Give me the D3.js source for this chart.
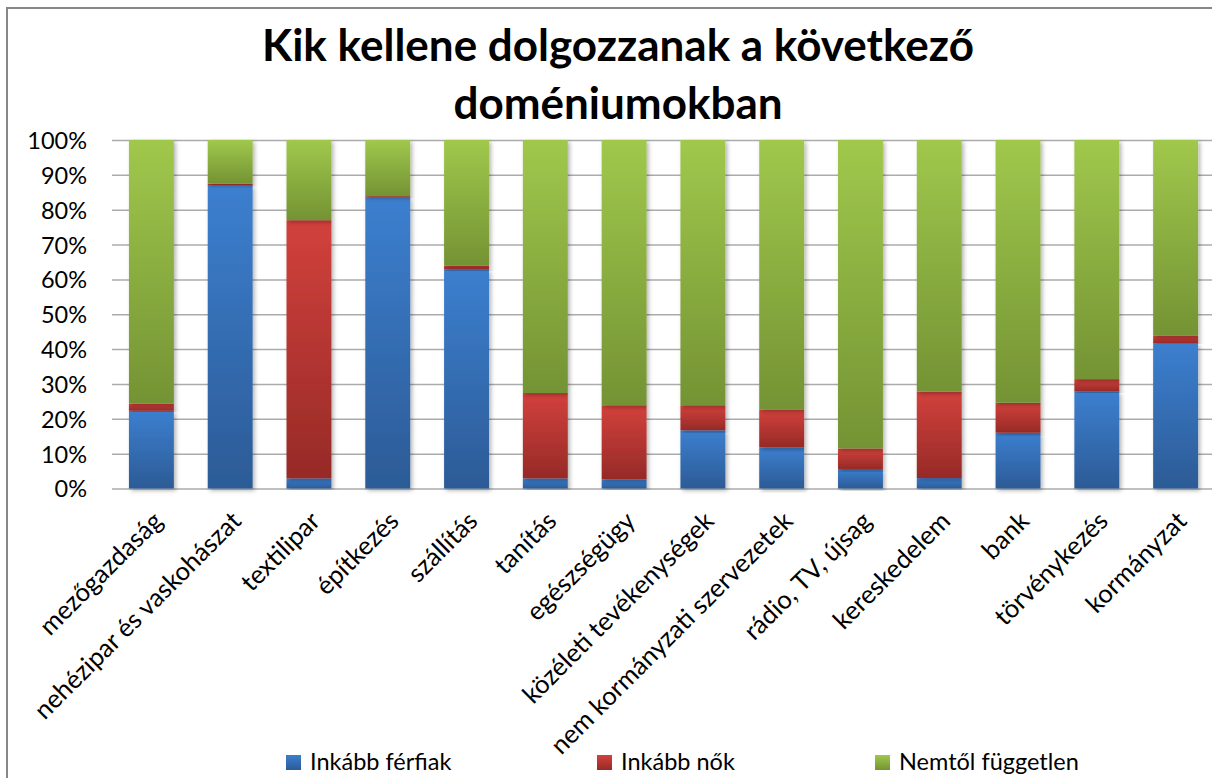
<!DOCTYPE html>
<html>
<head>
<meta charset="utf-8">
<script src="https://cdn.jsdelivr.net/npm/d3@7"></script>
<style>
  body { margin: 0; background: #fff; }
  svg text { font-family: Lato, "Open Sans", sans-serif; fill: #000; }
</style>
</head>
<body>
<div id="chart"></div>
<script>
////////////////////////////////////////////////////////////////////////
// Data (percent of answers per domain)

let categories = [
  "mezőgazdaság", "nehézipar és vaskohászat", "textilipar", "építkezés",
  "szállítás", "tanítás", "egészségügy", "közéleti tevékenységek",
  "nem kormányzati szervezetek", "rádio, TV, újsag", "kereskedelem",
  "bank", "törvénykezés", "kormányzat"
];
let ferfiak    = [22.3, 86.9, 2.9, 83.5, 62.8, 2.9, 2.6, 16.7, 11.8, 5.6, 3.0, 16.0, 27.8, 41.7];
let nok        = [2.1, 0.6, 74.1, 0.4, 1.2, 24.5, 21.3, 7.2, 10.9, 5.9, 24.8, 8.6, 3.6, 2.1];
let fuggetlen  = [75.6, 12.5, 23.0, 16.1, 36.0, 72.6, 76.1, 76.1, 77.3, 88.5, 72.2, 75.4, 68.6, 56.2];

let seriesNames = ["Inkább férfiak", "Inkább nők", "Nemtől független"];
let yTicks = [0, 0.1, 0.2, 0.3, 0.4, 0.5, 0.6, 0.7, 0.8, 0.9, 1];
let title = ["Kik kellene dolgozzanak a következő", "doméniumokban"];

////////////////////////////////////////////////////////////////////////
// Layout

let width = 1212;
let height = 778;
let plot = { left: 112, right: 1215, top: 140, bottom: 488.5 };

// gradient stops per series: light top, dark bottom
let grads = [
  ["#3c7fcf", "#2c5b96"],
  ["#d2413c", "#962a27"],
  ["#a0c84c", "#749334"]
];

let svg = d3.select("#chart")
  .append("svg")
  .attr("width", width)
  .attr("height", height);

let defs = svg.append("defs");
grads.forEach((g, i) => {
  let lg = defs.append("linearGradient")
    .attr("id", "grad" + i)
    .attr("x1", 0).attr("y1", 0).attr("x2", 0).attr("y2", 1);
  lg.append("stop").attr("offset", "0%").attr("stop-color", g[0]);
  lg.append("stop").attr("offset", "100%").attr("stop-color", g[1]);
});
defs.append("filter")
  .attr("id", "shadow")
  .attr("x", "-20%").attr("y", "-5%").attr("width", "150%").attr("height", "115%")
  .append("feDropShadow")
  .attr("dx", 2).attr("dy", 2)
  .attr("stdDeviation", 2)
  .attr("flood-color", "#000")
  .attr("flood-opacity", 0.3);

// chart border (runs off the right and bottom edge in the picture)
svg.append("rect")
  .attr("x", 7).attr("y", 8)
  .attr("width", 1300).attr("height", 900)
  .attr("fill", "none")
  .attr("stroke", "#878787")
  .attr("stroke-width", 2);

// title
svg.append("text")
  .attr("x", 618)
  .attr("text-anchor", "middle")
  .style("font-weight", "bold")
  .style("font-size", "44px")
  .selectAll("tspan")
  .data(title)
  .enter()
  .append("tspan")
  .attr("x", 618)
  .attr("y", (d, i) => 61 + i * 58)
  .text(d => d);

////////////////////////////////////////////////////////////////////////
// Scales

let xScale = d3.scaleBand()
  .domain(categories)
  .range([plot.left, plot.right])
  .paddingInner(0.43)
  .paddingOuter(0.215);

let yScale = d3.scaleLinear()
  .domain([0, 1])
  .range([plot.bottom, plot.top]);

let table = categories.map((c, i) => ({
  cat: c, a: ferfiak[i], b: nok[i], c: fuggetlen[i]
}));

let stacked = d3.stack()
  .keys(["a", "b", "c"])
  .offset(d3.stackOffsetExpand)(table);

// gridlines
let yAxisG = svg.append("g")
  .attr("transform", "translate(" + plot.left + ",0)")
  .call(d3.axisLeft(yScale)
    .tickValues(yTicks)
    .tickFormat(d3.format(".0%"))
    .tickSize(-(plot.right - plot.left))
    .tickPadding(24));
yAxisG.select(".domain").remove();
yAxisG.selectAll(".tick line")
  .attr("stroke", "#ababab")
  .attr("stroke-width", 1.5);
yAxisG.selectAll(".tick text")
  .style("font-size", "23.5px")
  .attr("x", 87 - plot.left)
  .attr("dy", "0.36em");

// bars
svg.append("g")
  .selectAll("g")
  .data(stacked)
  .enter()
  .append("g")
  .attr("fill", (d, i) => "url(#grad" + i + ")")
  .selectAll("rect")
  .data(d => d)
  .enter()
  .append("rect")
  .attr("filter", "url(#shadow)")
  .attr("x", d => xScale(d.data.cat))
  .attr("width", xScale.bandwidth())
  .attr("y", d => yScale(d[1]))
  .attr("height", d => yScale(d[0]) - yScale(d[1]));

// category labels, rotated
let labelG = svg.append("g");
categories.forEach(c => {
  let cx = xScale(c) + xScale.bandwidth() / 2;
  let cy = 510;
  labelG.append("text")
    .attr("transform", "translate(" + cx + "," + cy + ") rotate(-45)")
    .attr("text-anchor", "end")
    .attr("dy", "0.7em")
    .style("font-size", "25.5px")
    .text(c);
});

// legend
let legendX = [286, 597, 875];
let legend = svg.append("g");
seriesNames.forEach((name, i) => {
  legend.append("rect")
    .attr("x", legendX[i])
    .attr("y", 755)
    .attr("width", 15)
    .attr("height", 15)
    .attr("fill", "url(#grad" + i + ")");
  legend.append("text")
    .attr("x", legendX[i] + 24)
    .attr("y", 770)
    .style("font-size", "23.5px")
    .text(name);
});
</script>
</body>
</html>
